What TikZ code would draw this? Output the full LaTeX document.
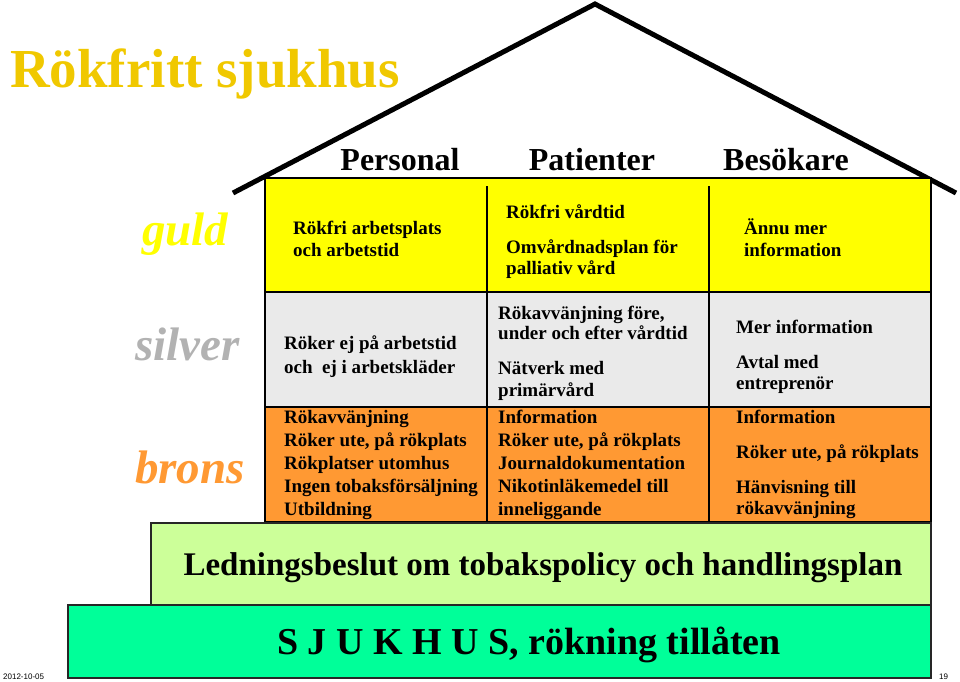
\documentclass[tikz,border=0pt]{standalone}
\usepackage{fontspec}
\setmainfont{Liberation Serif}
\newfontfamily\smallsans{Liberation Sans}
\definecolor{titlegold}{RGB}{240,200,0}
\definecolor{cellyellow}{RGB}{255,255,0}
\definecolor{cellgray}{RGB}{234,234,234}
\definecolor{cellorange}{RGB}{255,153,51}
\definecolor{lightgreen}{RGB}{204,255,153}
\definecolor{basegreen}{RGB}{0,255,153}
\definecolor{silvertext}{RGB}{178,178,178}
\newcommand\cl[4]{\node[celltext] (#1) at (#2,#3) {#4};}
\begin{document}
\begin{tikzpicture}[x=1pt,y=-1pt,
  celltext/.style={anchor=base west, inner sep=0pt, font=\fontsize{19}{23}\selectfont\bfseries},
  header/.style={anchor=base, inner sep=0pt, font=\fontsize{32}{36}\selectfont\bfseries},
  level/.style={anchor=base west, inner sep=0pt, font=\fontsize{47}{52}\selectfont\bfseries\itshape},
  tabline/.style={line width=1.3pt, draw=black},
  boxline/.style={line width=1.3pt, draw=black!85},
  roof/.style={line width=5pt, draw=black, line join=miter}
]
\useasboundingbox (0,0) rectangle (960,681);

% title
\node[anchor=base west, inner sep=0pt, text=titlegold, font=\fontsize{55}{60}\selectfont\bfseries] (title) at (10,87) {Rökfritt sjukhus};

% roof
\draw[roof] (233,193) -- (595,4) -- (956,193);

% headers
\node[header] (hpers) at (400,170) {Personal};
\node[header] (hpat) at (592,170) {Patienter};
\node[header] (hbes) at (786,170) {Besökare};

% table rows
\fill[cellyellow] (265,178) rectangle (931,292);
\fill[cellgray] (265,292) rectangle (931,407);
\fill[cellorange] (265,407) rectangle (931,522);
\draw[tabline] (265,178) rectangle (931,522);
\draw[tabline] (265,292) -- (931,292);
\draw[tabline] (265,407) -- (931,407);
\draw[tabline] (487,186) -- (487,522);
\draw[tabline] (709,186) -- (709,522);

% level labels
\node[level, text=cellyellow] (guld) at (142,245) {guld};
\node[level, text=silvertext] (silver) at (135,360) {silver};
\node[level, text=cellorange] (brons) at (135,483) {brons};

% gold row
\cl{ga1}{293}{234}{Rökfri arbetsplats}
\cl{ga2}{293}{256}{och arbetstid}
\cl{gb1}{506}{218}{Rökfri vårdtid}
\cl{gb2}{506}{253}{Omvårdnadsplan för}
\cl{gb3}{506}{274}{palliativ vård}
\cl{gc1}{744}{234}{Ännu mer}
\cl{gc2}{744}{256}{information}

% silver row
\cl{sa1}{284}{349}{Röker ej på arbetstid}
\cl{sa2}{284}{373}{och\ \ ej i arbetskläder}
\cl{sb1}{498}{319}{Rökavvänjning före,}
\cl{sb2}{498}{339}{under och efter vårdtid}
\cl{sb3}{498}{374}{Nätverk med}
\cl{sb4}{498}{396}{primärvård}
\cl{sc1}{736}{333}{Mer information}
\cl{sc2}{736}{368}{Avtal med}
\cl{sc3}{736}{389}{entreprenör}

% bronze row
\cl{ba1}{284}{423}{Rökavvänjning}
\cl{ba2}{284}{446}{Röker ute, på rökplats}
\cl{ba3}{284}{469}{Rökplatser utomhus}
\cl{ba4}{284}{492}{Ingen tobaksförsäljning}
\cl{ba5}{284}{515}{Utbildning}
\cl{bb1}{498}{423}{Information}
\cl{bb2}{498}{446}{Röker ute, på rökplats}
\cl{bb3}{498}{469}{Journaldokumentation}
\cl{bb4}{498}{492}{Nikotinläkemedel till}
\cl{bb5}{498}{515}{inneliggande}
\cl{bc1}{736}{423}{Information}
\cl{bc2}{736}{458}{Röker ute, på rökplats}
\cl{bc3}{736}{493}{Hänvisning till}
\cl{bc4}{736}{514}{rökavvänjning}

% foundation boxes
\fill[lightgreen] (151,523) rectangle (931,605);
\draw[boxline] (151,523) rectangle (931,605);
\node[anchor=base, inner sep=0pt, font=\fontsize{33}{38}\selectfont\bfseries] (policy) at (543,575) {Ledningsbeslut om tobakspolicy och handlingsplan};
\fill[basegreen] (68,605) rectangle (931,678);
\draw[boxline] (68,605) rectangle (931,678);
\node[anchor=base, inner sep=0pt, font=\fontsize{38}{42}\selectfont\bfseries] (base) at (529,654) {S J U K H U S, rökning tillåten};

% footer
\node[anchor=base west, inner sep=0pt, font=\smallsans\fontsize{8}{9}\selectfont] (date) at (3,679) {2012-10-05};
\node[anchor=base west, inner sep=0pt, font=\smallsans\fontsize{8}{9}\selectfont] (page) at (939,679) {19};
\end{tikzpicture}
\end{document}
